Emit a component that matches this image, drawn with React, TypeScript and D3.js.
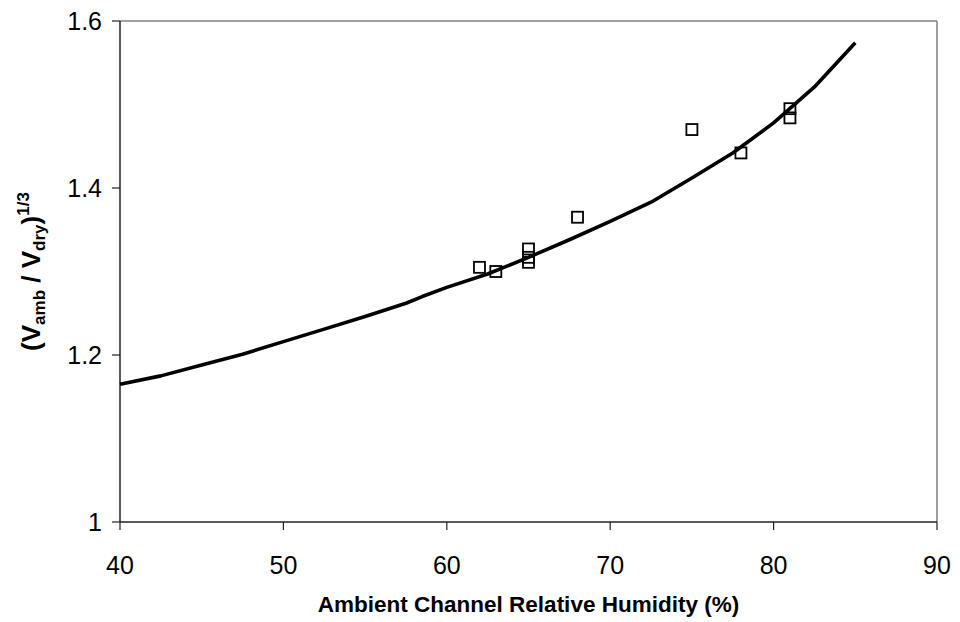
import React from "react";
import * as d3 from "d3";

const curveRH = [40, 42.5, 45, 47.5, 50, 52.5, 55, 57.5, 58.5, 60, 62.5, 65, 67.5, 70, 72.5, 75, 77.5, 80, 82.5, 85];
const curveVal = [1.165, 1.175, 1.188, 1.201, 1.216, 1.231, 1.246, 1.262, 1.270, 1.281, 1.297, 1.317, 1.338, 1.360, 1.383, 1.412, 1.442, 1.478, 1.521, 1.574];

const obsRH = [62, 63, 65, 65, 65, 68, 75, 78, 81, 81];
const obsVal = [1.305, 1.300, 1.327, 1.317, 1.311, 1.365, 1.470, 1.442, 1.495, 1.484];

const xTicks = [40, 50, 60, 70, 80, 90];
const yTicks = [1, 1.2, 1.4, 1.6];

const W = 960, H = 622;
const left = 120, right = 937, top = 21, bottom = 522;
const font = "Arial, 'Liberation Sans', sans-serif";

export default function App() {
  const x = d3.scaleLinear().domain([40, 90]).range([left, right]);
  const y = d3.scaleLinear().domain([1, 1.6]).range([bottom, top]);
  const line = d3.line<number>().x((_, i) => x(curveRH[i])).y((v) => y(v));
  const sq = 11;
  return (
    <svg width={W} height={H} style={{ position: "absolute", left: 0, top: 0, background: "#fff" }}>
      <rect x={0} y={0} width={W} height={H} fill="#fff" />
      <line x1={left} x2={right} y1={top} y2={top} stroke="#808080" strokeWidth={1.5} />
      <line x1={right} x2={right} y1={top} y2={bottom} stroke="#808080" strokeWidth={1.5} />
      <line x1={left} x2={left} y1={top} y2={bottom} stroke="#222" strokeWidth={1.5} />
      <line x1={left} x2={right} y1={bottom} y2={bottom} stroke="#222" strokeWidth={1.5} />
      {xTicks.map((t) => (
        <g key={"x" + t}>
          <line x1={x(t)} x2={x(t)} y1={bottom} y2={bottom + 8} stroke="#222" strokeWidth={1.2} />
          <text x={x(t)} y={bottom + 52} textAnchor="middle" fontFamily={font} fontSize={25} fill="#000">{t}</text>
        </g>
      ))}
      {yTicks.map((t) => (
        <g key={"y" + t}>
          <line x1={left - 8} x2={left} y1={y(t)} y2={y(t)} stroke="#222" strokeWidth={1.2} />
          <text x={left - 18} y={y(t) + 9} textAnchor="end" fontFamily={font} fontSize={25} fill="#000">{d3.format("")(t)}</text>
        </g>
      ))}
      <path d={line(curveVal) || ""} fill="none" stroke="#000" strokeWidth={3.6} strokeLinejoin="round" />
      {obsRH.map((r, i) => (
        <rect key={"o" + i} x={x(r) - sq / 2} y={y(obsVal[i]) - sq / 2} width={sq} height={sq} fill="none" stroke="#000" strokeWidth={1.8} />
      ))}
      <text x={(left + right) / 2} y={612} textAnchor="middle" fontFamily={font} fontSize={22.5} fontWeight="bold" fill="#000">
        Ambient Channel Relative Humidity (%)
      </text>
      <g transform={`translate(40, ${(top + bottom) / 2}) rotate(-90)`}>
        <text x={0} y={0} textAnchor="middle" fontFamily={font} fontWeight="bold" fontSize={26} fill="#000">
          (V<tspan fontSize={17} dy={5}>amb</tspan><tspan dy={-5}> / V</tspan><tspan fontSize={17} dy={5}>dry</tspan><tspan dy={-5}>)</tspan><tspan fontSize={17} dy={-11}>1/3</tspan>
        </text>
      </g>
    </svg>
  );
}
